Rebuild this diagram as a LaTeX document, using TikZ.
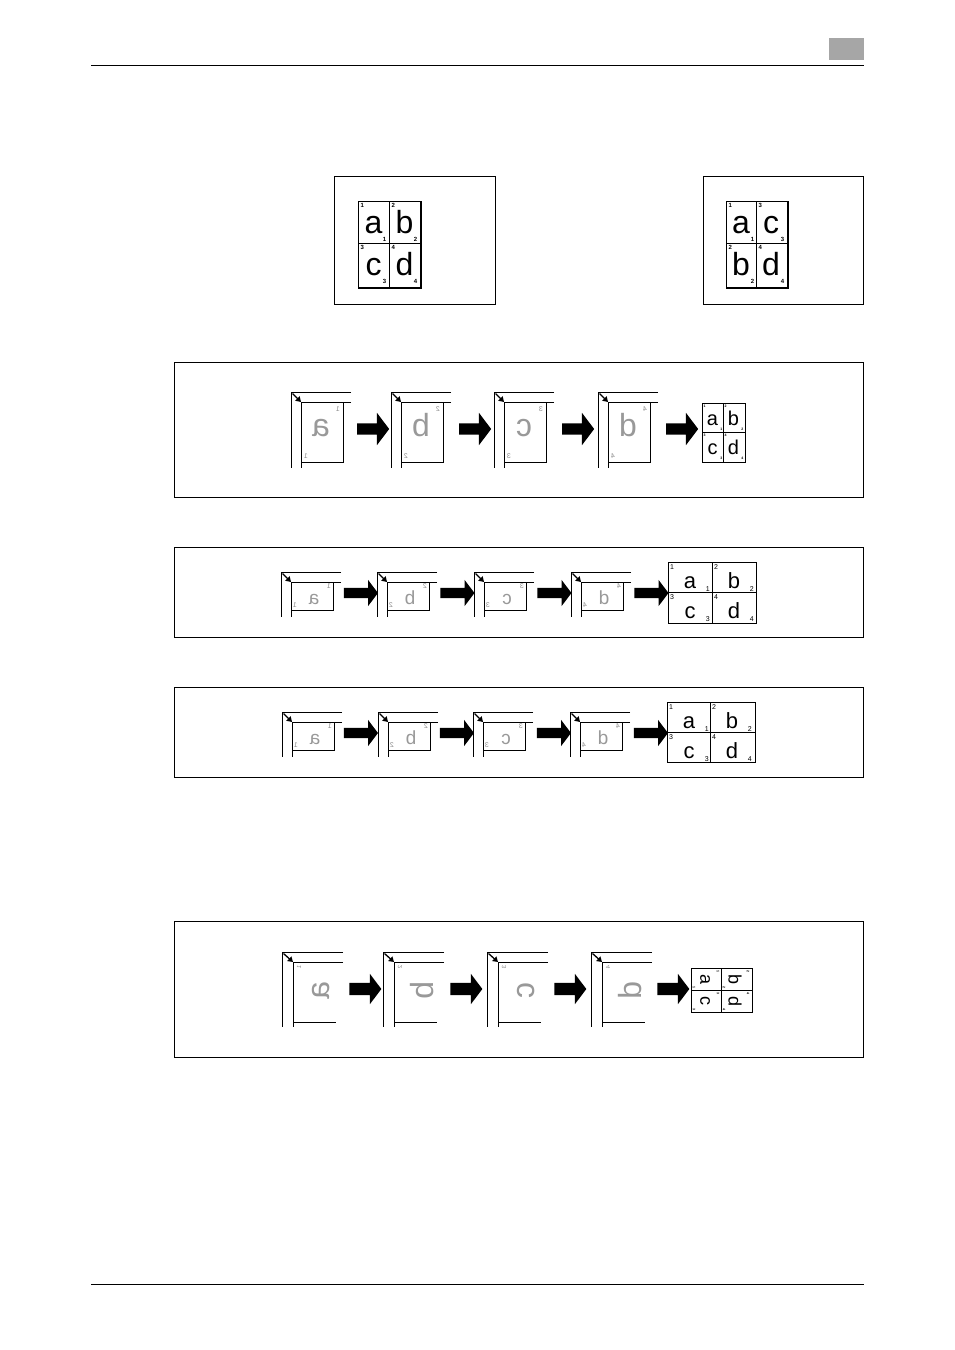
\documentclass[tikz,border=0pt]{standalone}
\usepackage{fontspec}
\setmainfont{Liberation Sans}
\usepackage{tikz}
\usetikzlibrary{shapes,arrows.meta,positioning}

\begin{document}
\begin{tikzpicture}[x=1pt, y=-1pt,
    frame/.style={draw, line width=0.9pt},
    platen/.style={draw, line width=0.9pt},
    cellgrid/.style={draw, line width=0.9pt},
    cornerarrow/.style={line width=1.3pt, -{Triangle[length=5pt, width=6pt]}},
    bigarrow/.style={single arrow, fill=black, draw=none, inner xsep=0pt, inner ysep=5.5pt, text height=0pt, text depth=0pt, text width=0pt, minimum height=32pt, single arrow head extend=10.5pt, single arrow tip angle=106},
    letter/.style={inner sep=0pt, anchor=base},
    ghost/.style={text=black!40},
    num/.style={inner sep=0pt, font=\fontsize{6}{6}\selectfont\bfseries},
    ghostnum/.style={inner sep=0pt, text=black!45, font=\fontsize{7}{7}\selectfont}
]
\useasboundingbox (0,0) rectangle (954,1350);

% Header and footer
\fill[black!35] (829,38) rectangle (864,60);
\draw[line width=1pt] (91,65) -- (864,65);
\draw[line width=1pt] (91,1284) -- (864,1284);

% Top boxes
\draw[frame] (334,176) rectangle (495,304);
\draw[frame] (703,176) rectangle (863,304);

% Layout 1: a b / c d
\draw[cellgrid] (358,201) rectangle (420,287);
\draw[cellgrid] (389,201) -- (389,287) (358,243) -- (420,243);
\draw[line width=2pt] (358,287.5) -- (421,287.5) -- (421,201);
\foreach \x/\y/\l/\n in {358/201/a/1, 389/201/b/2, 358/243/c/3, 389/243/d/4} {
  \node[letter, font=\fontsize{32}{32}\selectfont] (ta\l) at (\x+15.5,\y+32.5) {\l};
  \node[num, anchor=north west] (tan\l) at (\x+2.5,\y+2.5) {\n};
  \node[num, anchor=south east] (tam\l) at (\x+28.5,\y+40.5) {\n};
}

% Layout 2: a c / b d
\draw[cellgrid] (726,201) rectangle (787,287);
\draw[cellgrid] (756,201) -- (756,287) (726,243) -- (787,243);
\draw[line width=2pt] (726,287.5) -- (788,287.5) -- (788,201);
\foreach \x/\y/\l/\n in {726/201/a/1, 756/201/c/3, 726/243/b/2, 756/243/d/4} {
  \node[letter, font=\fontsize{32}{32}\selectfont] (tb\l) at (\x+15,\y+32.5) {\l};
  \node[num, anchor=north west] (tbn\l) at (\x+2.5,\y+2.5) {\n};
  \node[num, anchor=south east] (tbm\l) at (\x+28.5,\y+40.5) {\n};
}

% Panel 1
\draw[frame] (174,362) rectangle (863,497);
\foreach \u/\l/\n [count=\i] in {291/a/1, 391/b/2, 494/c/3, 598/d/4} {
  \draw[platen] (\u+60,392) -- (\u,392) -- (\u,468);
  \draw[platen] (\u+60,402) -- (\u+10,402) -- (\u+10,468);
  \draw[platen] (\u+10,402) rectangle (\u+52,462);
  \draw[cornerarrow] (\u+1.5,393.5) -- (\u+10,402);
  \node[letter, ghost, xscale=-1, font=\fontsize{32}{32}\selectfont] (pa\i) at (\u+30,436) {\l};
  \node[ghostnum, xscale=-1] (pan\i) at (\u+47,409) {\n};
  \node[ghostnum, xscale=-1] (pam\i) at (\u+15,456) {\n};
}
\foreach \x [count=\i] in {371,473,576,680}
  \node[bigarrow] (ara\i) at (\x,429) {};
\draw[cellgrid] (702,403) rectangle (745,462);
\draw[cellgrid] (723,403) -- (723,462) (702,432) -- (745,432);
\foreach \x/\y/\l/\n in {702/403/a/1, 723/403/b/2, 702/432/c/3, 723/432/d/4} {
  \node[letter, font=\fontsize{20}{20}\selectfont] (ra\l) at (\x+10.5,\y+22) {\l};
  \node[num, font=\fontsize{3.5}{3.5}\selectfont\bfseries, anchor=north west] (ran\l) at (\x+1.5,\y+1.5) {\n};
  \node[num, font=\fontsize{3.5}{3.5}\selectfont\bfseries, anchor=south east] (ram\l) at (\x+20.5,\y+28) {\n};
}

% Panel 2
\draw[frame] (174,547) rectangle (863,637);
\foreach \u/\l/\n [count=\i] in {281/a/1, 377/b/2, 474/c/3, 571/d/4} {
  \draw[platen] (\u+60,572) -- (\u,572) -- (\u,617);
  \draw[platen] (\u+60,582) -- (\u+10,582) -- (\u+10,617);
  \draw[platen] (\u+10,582) rectangle (\u+52,610);
  \draw[cornerarrow] (\u+1.5,573.5) -- (\u+10,582);
  \node[letter, ghost, xscale=-1, font=\fontsize{19}{19}\selectfont] (pb\i) at (\u+33,604) {\l};
  \node[ghostnum, xscale=-1] (pbn\i) at (\u+48,586) {\n};
  \node[ghostnum, xscale=-1] (pbm\i) at (\u+14,605) {\n};
}
\foreach \x [count=\i] in {359,455.5,552.5,649.5}
  \node[bigarrow, minimum height=34pt, inner ysep=5pt, single arrow head extend=8pt] (arb\i) at (\x,593) {};
\draw[cellgrid] (668,562) rectangle (756,623);
\draw[cellgrid] (712,562) -- (712,623) (668,592) -- (756,592);
\foreach \x/\y/\l/\n in {668/562/a/1, 712/562/b/2, 668/592/c/3, 712/592/d/4} {
  \node[letter, font=\fontsize{22}{22}\selectfont] (rb\l) at (\x+22,\y+26) {\l};
  \node[num, font=\fontsize{7}{7}\selectfont, anchor=north west] (rbn\l) at (\x+2,\y+2) {\n};
  \node[num, font=\fontsize{7}{7}\selectfont, anchor=south east] (rbm\l) at (\x+42,\y+29.5) {\n};
}

% Panel 3
\draw[frame] (174,687) rectangle (863,777);
\foreach \u/\l/\n [count=\i] in {282/a/1, 378/b/2, 473/c/3, 570/d/4} {
  \draw[platen] (\u+60,712) -- (\u,712) -- (\u,757);
  \draw[platen] (\u+60,722) -- (\u+10,722) -- (\u+10,757);
  \draw[platen] (\u+10,722) rectangle (\u+52,750);
  \draw[cornerarrow] (\u+1.5,713.5) -- (\u+10,722);
  \node[letter, ghost, xscale=-1, font=\fontsize{19}{19}\selectfont] (pc\i) at (\u+33,744) {\l};
  \node[ghostnum, xscale=-1] (pcn\i) at (\u+48,726) {\n};
  \node[ghostnum, xscale=-1] (pcm\i) at (\u+14,745) {\n};
}
\foreach \x [count=\i] in {359,455,552,649}
  \node[bigarrow, minimum height=34pt, inner ysep=5pt, single arrow head extend=8pt] (arc\i) at (\x,733) {};
\draw[cellgrid] (667,702) rectangle (755,762);
\draw[cellgrid] (710,702) -- (710,762) (667,732) -- (755,732);
\foreach \x/\y/\l/\n in {667/702/a/1, 710/702/b/2, 667/732/c/3, 710/732/d/4} {
  \node[letter, font=\fontsize{22}{22}\selectfont] (rc\l) at (\x+22,\y+26) {\l};
  \node[num, font=\fontsize{7}{7}\selectfont, anchor=north west] (rcn\l) at (\x+2,\y+2) {\n};
  \node[num, font=\fontsize{7}{7}\selectfont, anchor=south east] (rcm\l) at (\x+42,\y+29.5) {\n};
}

% Panel 4
\draw[frame] (174,921) rectangle (863,1057);
\foreach \u/\l/\n [count=\i] in {282/a/1, 383/b/2, 487/c/3, 591/d/4} {
  \draw[platen] (\u+61,952) -- (\u,952) -- (\u,1027);
  \draw[platen] (\u+61,962) -- (\u+11,962) -- (\u+11,1027);
  \draw[platen] (\u+11,1022) -- (\u+54,1022);
  \draw[cornerarrow] (\u+1.5,953.5) -- (\u+11,962);
  \node[inner sep=0pt, ghost, rotate=90, xscale=-1, font=\fontsize{32}{32}\selectfont] (pd\i) at (\u+39,990) {\l};
  \node[ghostnum, rotate=90, xscale=-1, font=\fontsize{6}{6}\selectfont] (pdn\i) at (\u+17,967) {\n};
}
\foreach \x [count=\i] in {363,464,568,671}
  \node[bigarrow, minimum height=32pt, inner ysep=6pt, single arrow head extend=9pt] (ard\i) at (\x,989) {};
\draw[cellgrid] (691,968) rectangle (752,1012);
\draw[cellgrid] (721,968) -- (721,1012) (691,990) -- (752,990);
\foreach \x/\y/\l/\n in {691/968/a/1, 721/968/b/2, 691/990/c/3, 721/990/d/4} {
  \node[inner sep=0pt, rotate=-90, font=\fontsize{18}{18}\selectfont] (rd\l) at (\x+14,\y+11) {\l};
  \node[num, rotate=-90, font=\fontsize{3.5}{3.5}\selectfont\bfseries] (rdn\l) at (\x+27,\y+3) {\n};
  \node[num, rotate=-90, font=\fontsize{3.5}{3.5}\selectfont\bfseries] (rdm\l) at (\x+3,\y+19) {\n};
}

\end{tikzpicture}
\end{document}
